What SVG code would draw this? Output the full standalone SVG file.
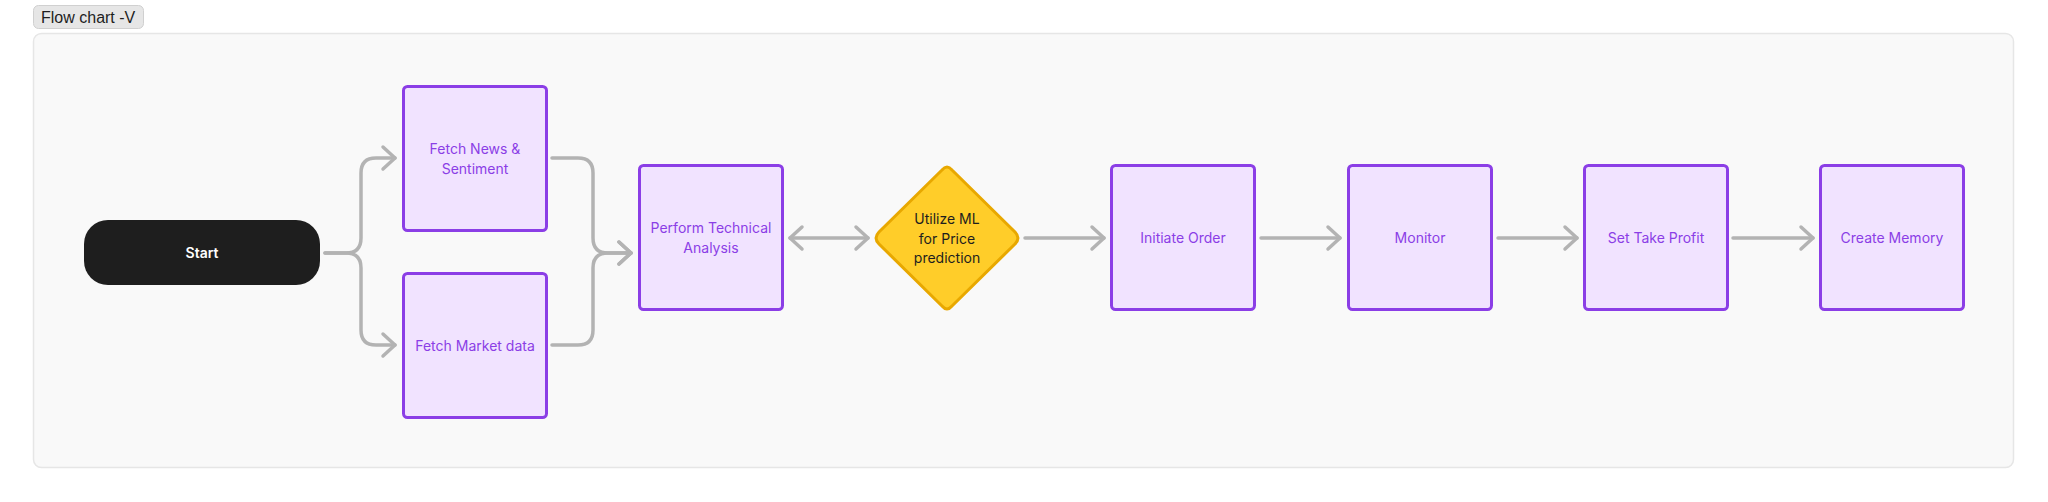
<svg xmlns="http://www.w3.org/2000/svg" width="2048" height="502" viewBox="0 0 2048 502">
<style>
.box{fill:#F1E3FF;stroke:#8B3EE6;stroke-width:3}
.bt{font-family:Inter,"Liberation Sans",sans-serif;font-size:14px;fill:#8B3EE6;text-anchor:middle}
.dt{font-family:Inter,"Liberation Sans",sans-serif;font-size:14px;fill:#1E1E1E;text-anchor:middle}
.st{font-family:Inter,"Liberation Sans",sans-serif;font-size:14px;font-weight:600;fill:#FFFFFF;text-anchor:middle}
.con{fill:none;stroke:#B3B3B3;stroke-width:3.5;stroke-linecap:round;stroke-linejoin:round}
</style>
<defs>
<marker id="arr" viewBox="-3 -3 18 28" refX="12" refY="11" markerWidth="18" markerHeight="28" markerUnits="userSpaceOnUse" orient="auto-start-reverse">
<path d="M0,0 L12,11 L0,22" fill="none" stroke="#B3B3B3" stroke-width="3.5" stroke-linecap="round" stroke-linejoin="round"/>
</marker>
</defs>
<rect x="0" y="0" width="2048" height="502" fill="#FFFFFF"/>
<g id="section">
<rect x="33.5" y="33.5" width="1980" height="434" rx="8" fill="#F9F9F9" stroke="#E6E6E6" stroke-width="1.5"/>
<rect x="33.5" y="5.5" width="110" height="23" rx="5" fill="#E6E6E6" stroke="#D0D0D0" stroke-width="1"/>
<text x="41" y="23" font-family="'Liberation Sans',Arial,sans-serif" font-size="16" fill="#1E1E1E">Flow chart -V</text>
</g>
<g id="connectors">
<path class="con" d="M325,253 H346 Q361,253 361,238 V173 Q361,158 376,158 H395" marker-end="url(#arr)"/>
<path class="con" d="M325,253 H346 Q361,253 361,268 V330 Q361,345 376,345 H395" marker-end="url(#arr)"/>
<path class="con" d="M552,158 H578 Q593,158 593,173 V238 Q593,253 608,253 H631" marker-end="url(#arr)"/>
<path class="con" d="M552,345 H578 Q593,345 593,330 V268 Q593,253 608,253 H631" marker-end="url(#arr)"/>
<path class="con" d="M790,238 H868" marker-start="url(#arr)" marker-end="url(#arr)"/>
<path class="con" d="M1025,238 H1104" marker-end="url(#arr)"/>
<path class="con" d="M1261,238 H1340" marker-end="url(#arr)"/>
<path class="con" d="M1498,238 H1577" marker-end="url(#arr)"/>
<path class="con" d="M1733,238 H1813" marker-end="url(#arr)"/>
</g>
<g id="start">
<rect x="84" y="220" width="236" height="65" rx="24" fill="#1E1E1E"/>
<text class="st" x="202" y="258">Start</text>
</g>
<g id="fetch-news">
<rect class="box" x="403.5" y="86.5" width="143" height="144" rx="4"/>
<text class="bt" x="475" y="154">Fetch News &amp;</text>
<text class="bt" x="475" y="174">Sentiment</text>
</g>
<g id="fetch-market">
<rect class="box" x="403.5" y="273.5" width="143" height="144" rx="4"/>
<text class="bt" x="475" y="350.5">Fetch Market data</text>
</g>
<g id="perform-ta">
<rect class="box" x="639.5" y="165.5" width="143" height="144" rx="4"/>
<text class="bt" x="711" y="233">Perform Technical</text>
<text class="bt" x="711" y="253">Analysis</text>
</g>
<g id="utilize-ml">
<path d="M942,170 Q947,164 952,170 L1015,232 Q1021,238 1015,244 L952,306 Q947,312 942,306 L879,244 Q873,238 879,232 Z" fill="#FFCD29" stroke="#E8A800" stroke-width="3" stroke-linejoin="round"/>
<text class="dt" x="947" y="224">Utilize ML</text>
<text class="dt" x="947" y="243.5">for Price</text>
<text class="dt" x="947" y="263">prediction</text>
</g>
<g id="initiate-order">
<rect class="box" x="1111.5" y="165.5" width="143" height="144" rx="4"/>
<text class="bt" x="1183" y="243">Initiate Order</text>
</g>
<g id="monitor">
<rect class="box" x="1348.5" y="165.5" width="143" height="144" rx="4"/>
<text class="bt" x="1420" y="243">Monitor</text>
</g>
<g id="set-take-profit">
<rect class="box" x="1584.5" y="165.5" width="143" height="144" rx="4"/>
<text class="bt" x="1656" y="243">Set Take Profit</text>
</g>
<g id="create-memory">
<rect class="box" x="1820.5" y="165.5" width="143" height="144" rx="4"/>
<text class="bt" x="1892" y="243">Create Memory</text>
</g>
</svg>
